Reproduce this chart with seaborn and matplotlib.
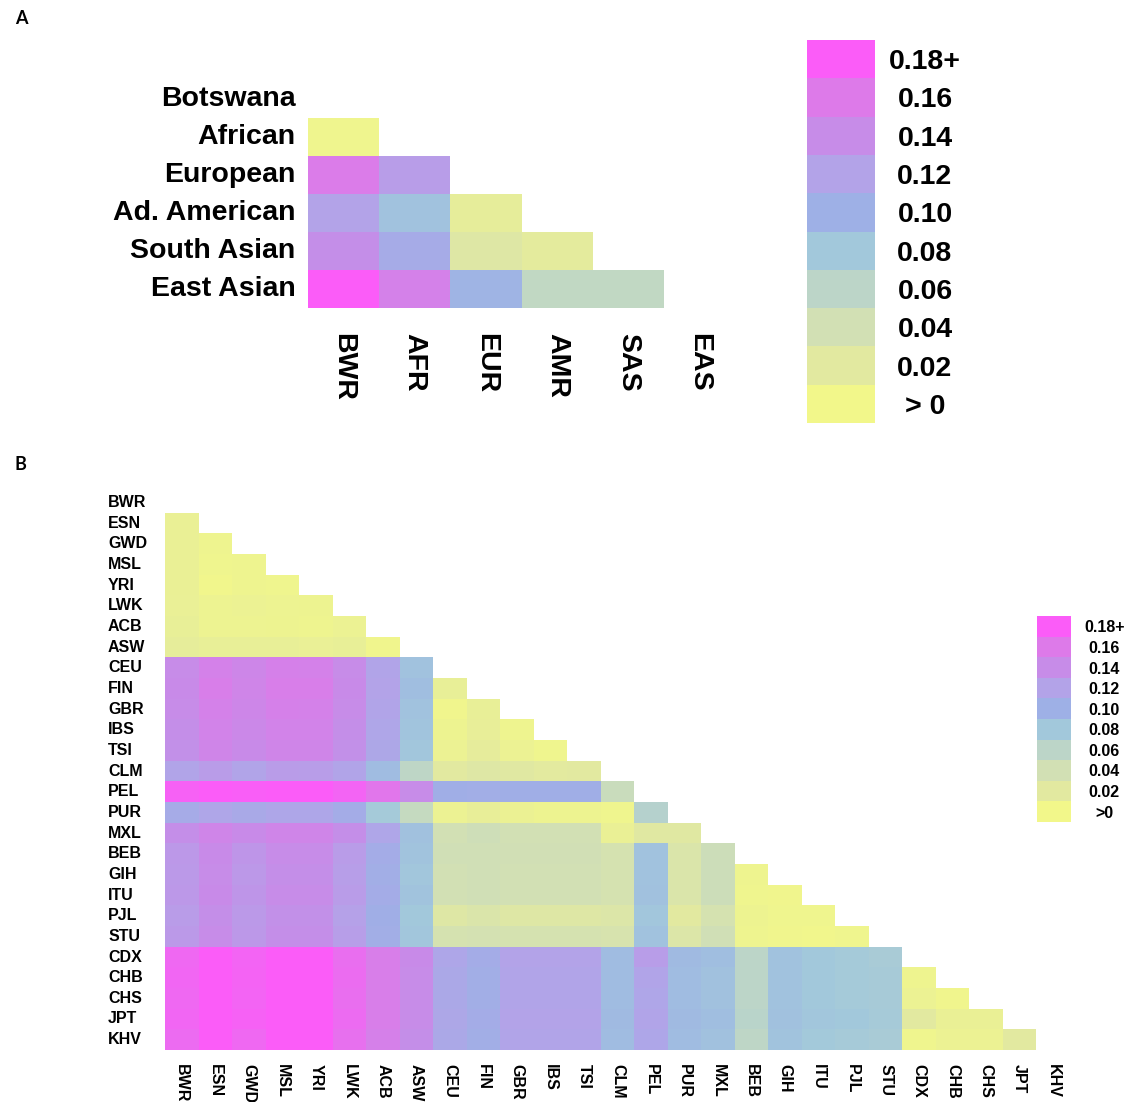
import numpy as np
import pandas as pd
import matplotlib
matplotlib.use("Agg")
import matplotlib.pyplot as plt
import seaborn as sns
from matplotlib.colors import LinearSegmentedColormap

# Paleta de la leyenda (de ">0" a "0.18+")
LEVEL_COLORS = ["#f2f78a", "#e2e9a0", "#d2e0b4", "#bcd5c8", "#a2c8db",
                "#9eb0e6", "#b3a3e8", "#c68ce8", "#dd7ae9", "#fb5cf8"]
LEVEL_VALUES = [0.0, 0.02, 0.04, 0.06, 0.08, 0.10, 0.12, 0.14, 0.16, 0.18]
LEVEL_LABELS_A = ["> 0", "0.02", "0.04", "0.06", "0.08", "0.10", "0.12", "0.14", "0.16", "0.18+"]
LEVEL_LABELS_B = [">0", "0.02", "0.04", "0.06", "0.08", "0.10", "0.12", "0.14", "0.16", "0.18+"]

FONT = "Liberation Sans"

# ---- Panel A: super-poblaciones ----
rows_a = ["Botswana", "African", "European", "Ad. American", "South Asian", "East Asian"]
cols_a = ["BWR", "AFR", "EUR", "AMR", "SAS", "EAS"]
african_a = [0.004]
european_a = [0.158, 0.125]
american_a = [0.120, 0.085, 0.015]
south_asian_a = [0.138, 0.108, 0.025, 0.018]
east_asian_a = [0.190, 0.152, 0.097, 0.055, 0.055]

# ---- Panel B: poblaciones 1000 Genomes ----
pops_b = ["BWR", "ESN", "GWD", "MSL", "YRI", "LWK", "ACB", "ASW",
          "CEU", "FIN", "GBR", "IBS", "TSI", "CLM", "PEL", "PUR", "MXL",
          "BEB", "GIH", "ITU", "PJL", "STU", "CDX", "CHB", "CHS", "JPT", "KHV"]

esn = [0.010]
gwd = [0.010, 0.005]
msl = [0.010, 0.004, 0.005]
yri = [0.010, 0.002, 0.005, 0.004]
lwk = [0.011, 0.007, 0.008, 0.007, 0.006]
acb = [0.012, 0.007, 0.007, 0.006, 0.005, 0.008]
asw = [0.015, 0.012, 0.012, 0.012, 0.011, 0.012, 0.003]
ceu = [0.140, 0.152, 0.146, 0.153, 0.152, 0.140, 0.118, 0.085]
fin = [0.142, 0.155, 0.148, 0.155, 0.155, 0.142, 0.120, 0.088, 0.012]
gbr = [0.140, 0.152, 0.146, 0.153, 0.152, 0.140, 0.118, 0.085, 0.003, 0.012]
ibs = [0.138, 0.150, 0.144, 0.150, 0.150, 0.138, 0.116, 0.083, 0.006, 0.013, 0.005]
tsi = [0.136, 0.148, 0.142, 0.148, 0.148, 0.136, 0.114, 0.082, 0.008, 0.016, 0.008, 0.004]
clm = [0.118, 0.126, 0.118, 0.126, 0.125, 0.118, 0.090, 0.058, 0.020, 0.026, 0.022,
       0.019, 0.020]
pel = [0.176, 0.186, 0.178, 0.184, 0.184, 0.174, 0.162, 0.140, 0.102, 0.104, 0.102,
       0.102, 0.102, 0.048]
pur = [0.108, 0.116, 0.110, 0.115, 0.115, 0.106, 0.078, 0.052, 0.008, 0.013, 0.009,
       0.006, 0.006, 0.004, 0.066]
mxl = [0.138, 0.148, 0.142, 0.148, 0.148, 0.138, 0.116, 0.086, 0.040, 0.044, 0.040,
       0.040, 0.040, 0.010, 0.022, 0.022]
beb = [0.130, 0.142, 0.132, 0.140, 0.140, 0.126, 0.106, 0.084, 0.042, 0.042, 0.041,
       0.041, 0.041, 0.036, 0.085, 0.030, 0.045]
gih = [0.128, 0.140, 0.130, 0.138, 0.138, 0.124, 0.104, 0.082, 0.040, 0.042, 0.040,
       0.040, 0.040, 0.036, 0.085, 0.030, 0.045, 0.005]
itu = [0.130, 0.142, 0.132, 0.140, 0.140, 0.126, 0.106, 0.084, 0.040, 0.042, 0.040,
       0.040, 0.040, 0.036, 0.086, 0.030, 0.045, 0.004, 0.003]
pjl = [0.126, 0.138, 0.128, 0.136, 0.136, 0.122, 0.102, 0.080, 0.026, 0.030, 0.026,
       0.026, 0.026, 0.028, 0.082, 0.020, 0.036, 0.006, 0.004, 0.004]
stu = [0.128, 0.140, 0.130, 0.138, 0.138, 0.124, 0.104, 0.082, 0.036, 0.038, 0.036,
       0.036, 0.036, 0.034, 0.085, 0.028, 0.042, 0.005, 0.003, 0.002, 0.004]
cdx = [0.172, 0.180, 0.174, 0.182, 0.182, 0.168, 0.156, 0.142, 0.115, 0.106, 0.120,
       0.120, 0.120, 0.090, 0.125, 0.092, 0.088, 0.060, 0.085, 0.080, 0.078, 0.075]
chb = [0.173, 0.182, 0.175, 0.184, 0.184, 0.169, 0.156, 0.140, 0.112, 0.104, 0.118,
       0.118, 0.118, 0.090, 0.118, 0.090, 0.086, 0.060, 0.085, 0.080, 0.078, 0.076,
       0.005]
chs = [0.172, 0.181, 0.174, 0.183, 0.183, 0.168, 0.155, 0.140, 0.112, 0.104, 0.118,
       0.118, 0.118, 0.090, 0.116, 0.090, 0.086, 0.060, 0.085, 0.080, 0.078, 0.076,
       0.008, 0.003]
jpt = [0.173, 0.184, 0.176, 0.186, 0.186, 0.170, 0.156, 0.140, 0.114, 0.106, 0.120,
       0.120, 0.120, 0.092, 0.118, 0.092, 0.088, 0.062, 0.086, 0.082, 0.080, 0.077,
       0.020, 0.010, 0.010]
khv = [0.170, 0.180, 0.172, 0.181, 0.181, 0.166, 0.153, 0.138, 0.112, 0.104, 0.118,
       0.118, 0.118, 0.090, 0.115, 0.090, 0.086, 0.058, 0.084, 0.079, 0.077, 0.075,
       0.004, 0.008, 0.008, 0.020]


def lower_matrix(row_values, row_names, col_names):
    """Arma la matriz triangular inferior (NaN en la diagonal y arriba)"""
    n = len(row_names)
    mat = np.full((n, len(col_names)), np.nan)
    for i, vals in enumerate(row_values):
        mat[i + 1, : len(vals)] = vals
    return pd.DataFrame(mat, index=row_names, columns=col_names)


def draw_legend(cax, labels, fontsize, pad):
    """Leyenda discreta dibujada como heatmap de una columna"""
    leg = pd.DataFrame({"v": LEVEL_VALUES[::-1]}, index=labels[::-1])
    sns.heatmap(leg, ax=cax, cmap=cmap, vmin=0, vmax=0.18, cbar=False,
                xticklabels=False, linewidths=0)
    cax.yaxis.tick_right()
    cax.set_yticklabels(labels[::-1], rotation=0, ha="center",
                        fontsize=fontsize, fontweight="bold", family=FONT)
    cax.tick_params(axis="y", length=0, pad=pad)
    cax.set_xlabel("")
    cax.set_ylabel("")


cmap = LinearSegmentedColormap.from_list(
    "fst", list(zip(np.linspace(0, 1, len(LEVEL_COLORS)), LEVEL_COLORS))
)

W, H = 1129, 1102
fig = plt.figure(figsize=(W / 100, H / 100), dpi=100)


def px_axes(x0, y0, x1, y1):
    return fig.add_axes([x0 / W, 1 - y1 / H, (x1 - x0) / W, (y1 - y0) / H])


# Panel A
df_a = lower_matrix([african_a, european_a, american_a, south_asian_a, east_asian_a],
                    rows_a, cols_a)
ax_a = px_axes(308, 80, 735, 308)
sns.heatmap(df_a, ax=ax_a, cmap=cmap, vmin=0, vmax=0.18, cbar=False,
            mask=df_a.isna(), linewidths=0)
ax_a.set_yticklabels(rows_a, rotation=0, fontsize=20.5, fontweight="bold", family=FONT)
ax_a.set_xticklabels(cols_a, rotation=270, fontsize=20.5, fontweight="bold", family=FONT)
ax_a.tick_params(axis="y", length=0, pad=9)
ax_a.tick_params(axis="x", length=0, pad=18)
ax_a.set_xlabel("")
ax_a.set_ylabel("")

cax_a = px_axes(807, 40, 875, 423)
draw_legend(cax_a, LEVEL_LABELS_A, 20.5, 36)

# Panel B
df_b = lower_matrix([esn, gwd, msl, yri, lwk, acb, asw, ceu, fin, gbr, ibs, tsi,
                     clm, pel, pur, mxl, beb, gih, itu, pjl, stu, cdx, chb, chs,
                     jpt, khv], pops_b, pops_b)
ax_b = px_axes(165, 492, 1070, 1050)
sns.heatmap(df_b, ax=ax_b, cmap=cmap, vmin=0, vmax=0.18, cbar=False,
            mask=df_b.isna(), linewidths=0)
ax_b.set_yticklabels(pops_b, rotation=0, ha="left", fontsize=11.5,
                     fontweight="bold", family=FONT)
ax_b.set_xticklabels(pops_b, rotation=270, fontsize=11.5, fontweight="bold",
                     family=FONT)
ax_b.tick_params(axis="y", length=0, pad=41)
ax_b.tick_params(axis="x", length=0, pad=10)
ax_b.set_xlabel("")
ax_b.set_ylabel("")

cax_b = px_axes(1037, 616, 1071, 822)
draw_legend(cax_b, LEVEL_LABELS_B, 11.5, 24)

# Letras de panel
fig.text(15 / W, 1 - 18 / H, "A", fontsize=13, fontweight="bold", family="Lato",
         va="center")
fig.text(15 / W, 1 - 465 / H, "B", fontsize=13, fontweight="bold", family="Lato",
         va="center")

fig.savefig("out.png", dpi=100)
